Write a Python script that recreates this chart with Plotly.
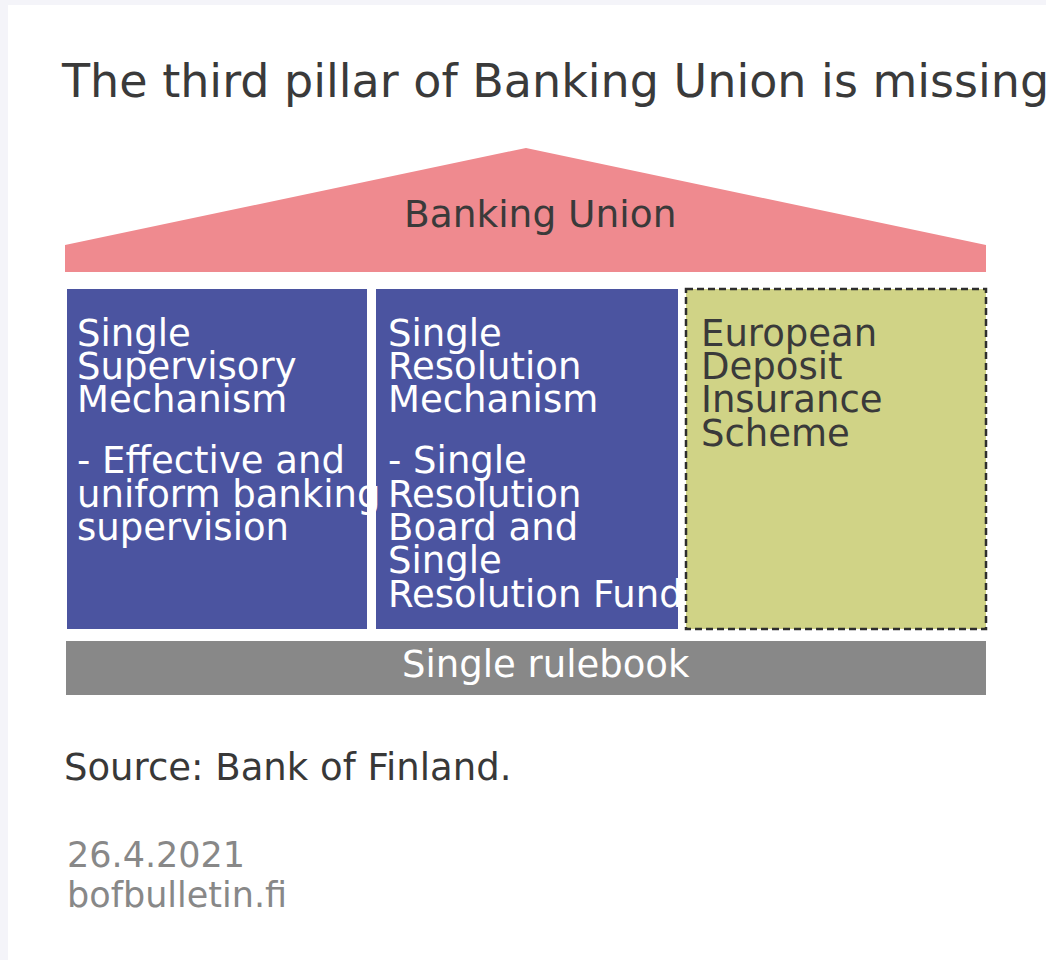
import plotly.graph_objects as go

# ---- content ----
title_text = "The third pillar of Banking Union is missing"
roof_label = "Banking Union"
pillar_titles = [
    ["Single", "Supervisory", "Mechanism"],
    ["Single", "Resolution", "Mechanism"],
    ["European", "Deposit", "Insurance", "Scheme"],
]
pillar_bodies = [
    ["- Effective and", "uniform banking", "supervision"],
    ["- Single", "Resolution", "Board and", "Single", "Resolution Fund"],
    [],
]
pillar_existing = [True, True, False]
base_label = "Single rulebook"
source_text = "Source: Bank of Finland."
date_text = "26.4.2021"
site_text = "bofbulletin.fi"

# ---- styling / layout constants ----
W, H = 1046, 960
FONT = "DejaVu Sans"
PINK = "#ef8a8f"
BLUE = "#4b54a0"
OLIVE = "#d0d386"
GREY = "#888888"
DARK = "#3a3a3a"
PAGE = "#f4f4f9"

roof_left, roof_right, roof_apex_x, roof_apex_y, roof_base_y, roof_bottom = 65, 986, 526, 148, 245, 272
pillar_x = [(67, 367), (376, 678), (686, 986)]
pillar_top, pillar_bottom = 289, 629
base_x0, base_x1, base_y0, base_y1 = 66, 986, 641, 695
text_pad = [11, 13, 16]
pfs = 37
line_step = 33.3
first_baseline = 346
para_gap = 61
XOFF = -3  # annotation internal padding compensation


def mid_from_baseline(b, size):
    return b - 0.346 * size


fig = go.Figure()
shapes = []
annotations = []

# page margins strip
shapes.append(dict(type="rect", x0=0, x1=8, y0=0, y1=H, fillcolor=PAGE, line_width=0, layer="below"))
shapes.append(dict(type="rect", x0=0, x1=W, y0=0, y1=5, fillcolor=PAGE, line_width=0, layer="below"))

# roof
shapes.append(dict(type="path",
                   path=f"M {roof_left},{roof_base_y} L {roof_apex_x},{roof_apex_y} L {roof_right},{roof_base_y} Z",
                   fillcolor=PINK, line_width=0))
shapes.append(dict(type="rect", x0=roof_left, x1=roof_right, y0=roof_base_y, y1=roof_bottom,
                   fillcolor=PINK, line_width=0))

# pillars
for i, (x0, x1) in enumerate(pillar_x):
    if pillar_existing[i]:
        shapes.append(dict(type="rect", x0=x0, x1=x1, y0=pillar_top, y1=pillar_bottom,
                           fillcolor=BLUE, line_width=0))
    else:
        shapes.append(dict(type="rect", x0=x0, x1=x1, y0=pillar_top, y1=pillar_bottom,
                           fillcolor=OLIVE, line=dict(color="#2e2e2e", width=2.5, dash="7px,4px")))

# base
shapes.append(dict(type="rect", x0=base_x0, x1=base_x1, y0=base_y0, y1=base_y1,
                   fillcolor=GREY, line_width=0))


def add_text(txt, x, y, size, color, xanchor="left"):
    if xanchor == "left":
        x = x + XOFF
    annotations.append(dict(text=txt, x=x, y=y, xref="x", yref="y", showarrow=False,
                            xanchor=xanchor, yanchor="middle",
                            font=dict(family=FONT, size=size, color=color)))


# title
add_text(title_text, 62, mid_from_baseline(97, 46), 46, DARK)
# roof label
add_text(roof_label, 539.5, mid_from_baseline(227, 37.5), 37.5, DARK, "center")

# pillar texts
for i, (x0, x1) in enumerate(pillar_x):
    col = "white" if pillar_existing[i] else DARK
    b = first_baseline
    for ln in pillar_titles[i]:
        add_text(ln, x0 + text_pad[i], mid_from_baseline(b, pfs), pfs, col)
        b += line_step
    b = first_baseline + line_step * (len(pillar_titles[i]) - 1) + para_gap
    for ln in pillar_bodies[i]:
        add_text(ln, x0 + text_pad[i], mid_from_baseline(b, pfs), pfs, col)
        b += line_step

# base label
add_text(base_label, 545.5, mid_from_baseline(677, 37), 37, "white", "center")

# footer
add_text(source_text, 65, mid_from_baseline(780, 37), 37, "#383838")
add_text(date_text, 68, mid_from_baseline(867, 35), 35, GREY)
add_text(site_text, 68, mid_from_baseline(907, 35), 35, GREY)

fig.update_layout(
    width=W, height=H,
    margin=dict(l=0, r=0, t=0, b=0),
    paper_bgcolor="white", plot_bgcolor="white",
    xaxis=dict(range=[0, W], visible=False, fixedrange=True),
    yaxis=dict(range=[H, 0], visible=False, fixedrange=True),
    shapes=shapes, annotations=annotations,
    showlegend=False,
)

fig.write_html("out.html", config={"displayModeBar": False},
               post_script="document.body.style.margin='0';document.body.style.overflow='hidden';")
